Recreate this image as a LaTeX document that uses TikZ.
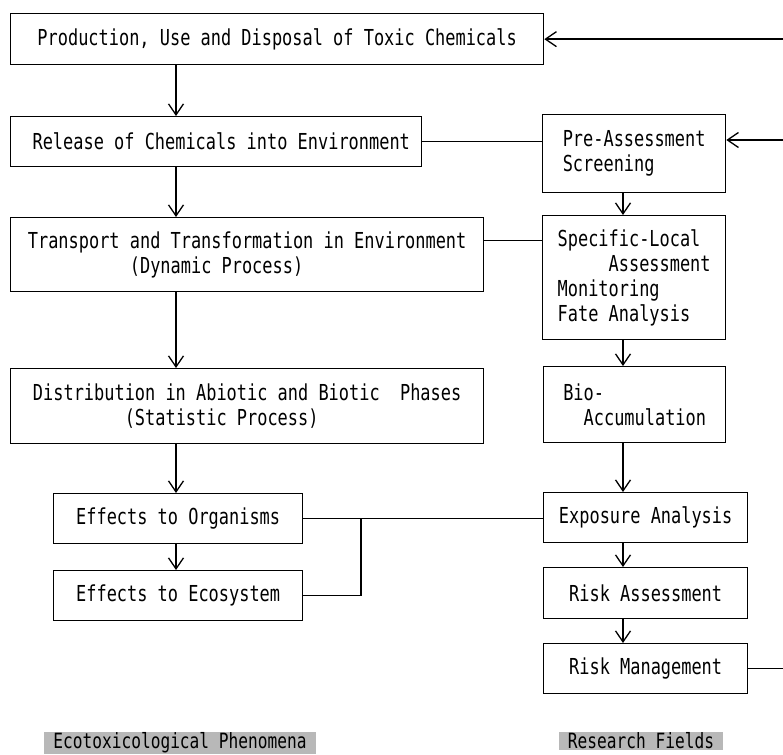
\documentclass[tikz,border=0pt]{standalone}
\usepackage{fontspec}
\setmainfont[FakeStretch=0.77]{DejaVu Sans Mono}
\usetikzlibrary{arrows.meta,calc}
\tikzset{
    box/.style={draw, line width=1.3pt, align=left, anchor=north west, inner sep=0pt,
        font=\fontsize{22}{25}\selectfont},
    link/.style={line width=1.3pt},
    flow/.style={link, -{Straight Barb[length=11pt,width=15pt]}},
    tag/.style={fill=black!28, inner xsep=9pt, inner ysep=1pt, font=\fontsize{21}{23}\selectfont}
}
\newcommand{\gap}[1]{\hphantom{#1}}
\begin{document}
\begin{tikzpicture}[x=1pt,y=-1pt]
                \useasboundingbox (0,0) rectangle (783,754);
                % phenomena
                \node[box, minimum width=533pt, minimum height=51pt] (prod) at (10,13) {Production, Use and Disposal of Toxic Chemicals};
                \node[box, minimum width=411pt, minimum height=50pt] (release) at (10,116) {\gap{x}Release of Chemicals into Environment};
                \node[box, minimum width=473pt, minimum height=74pt] (transport) at (10,217) {Transport and Transformation in Environment\\\gap{xxxxxxxxxx}(Dynamic Process)};
                \node[box, minimum width=473pt, minimum height=75pt] (distrib) at (10,368) {Distribution in Abiotic and Biotic\gap{xx}Phases\\\gap{xxxxxxxxx}(Statistic Process)};
                \node[box, minimum width=249pt, minimum height=50pt] (organisms) at (53,493) {Effects to Organisms};
                \node[box, minimum width=249pt, minimum height=50pt] (ecosys) at (53,570) {Effects to Ecosystem};
                % research fields
                \node[box, minimum width=183pt, minimum height=78pt] (prescreen) at (542,114) {Pre-Assessment\\Screening};
                \node[box, minimum width=183pt, minimum height=124pt] (specific) at (542,215) {Specific-Local\\\gap{xxxxx}Assessment\\Monitoring\\Fate Analysis};
                \node[box, minimum width=182pt, minimum height=76pt] (bioacc) at (543,366) {Bio-\\\gap{xx}Accumulation};
                \node[box, minimum width=204pt, minimum height=50pt] (exposure) at (543,492) {Exposure Analysis};
                \node[box, minimum width=204pt, minimum height=51pt] (riskass) at (543,567) {Risk Assessment};
                \node[box, minimum width=204pt, minimum height=50pt] (riskman) at (543,643) {Risk Management};
                \node[tag] (ecolabel) at (180,743) {Ecotoxicological Phenomena};
                \node[tag] (reslabel) at (641,741) {Research Fields};
                \coordinate (lspine) at (176,0);
                \coordinate (rspine) at (623,0);
                \coordinate (fork) at (361,518);
                \coordinate (backtop) at (783,39);
                \coordinate (backmid) at (783,140);
                \coordinate (backend) at (783,668);
                \foreach \a/\b in {prod/release, release/transport, transport/distrib, distrib/organisms, organisms/ecosys}
                {
                    \draw[flow] (\a.south -| lspine) -- (\b.north -| lspine);
                }
                \foreach \a/\b in {prescreen/specific, specific/bioacc, bioacc/exposure, exposure/riskass, riskass/riskman}
                {
                    \draw[flow] (\a.south -| rspine) -- (\b.north -| rspine);
                }
                \draw[link] (release.east) -- (release.east -| prescreen.west);
                \draw[link] ([yshift=14pt]transport.east) -- ([yshift=14pt]transport.east -| specific.west);
                \draw[link] (organisms.east) -- (organisms.east -| exposure.west);
                \draw[link] (ecosys.east) -| (fork);
                % feedback from risk management
                \draw[link] (riskman.east) -- (riskman.east -| backend);
                \draw[flow] (prod.east -| backtop) -- (prod.east);
                \draw[flow] (backmid) -- (prescreen.east |- backmid);
            \end{tikzpicture}
\end{document}
